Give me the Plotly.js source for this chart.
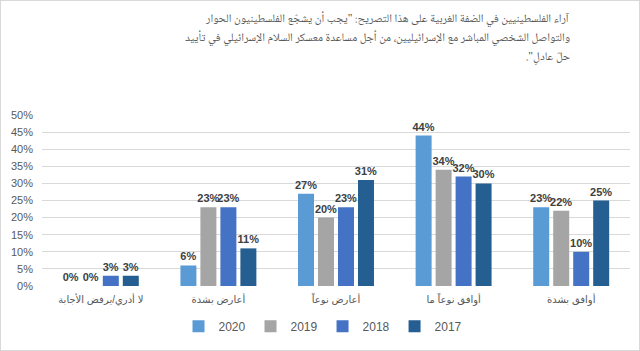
<!DOCTYPE html>
<html>
<head>
<meta charset="utf-8">
<script src="https://cdn.plot.ly/plotly-3.0.1.min.js"></script>
<style>
html,body{margin:0;padding:0;background:#fff;}
#wrap{position:relative;width:640px;height:351px;}
#chart{width:640px;height:351px;}
#frame{position:absolute;left:0;top:0;width:638px;height:349px;border:1px solid #d9d9d9;pointer-events:none;}
</style>
</head>
<body>
<div id="wrap"><div id="chart"></div><div id="frame"></div></div>
<script>
const categories = ["لا أدري/يرفض الأجابة", "أعارض بشدة", "أعارض نوعاً", "أوافق نوعاً ما", "أوافق بشدة"];
const years = ["2020", "2019", "2018", "2017"];
const v2020 = [0, 6, 27, 44, 23];
const v2019 = [0, 23, 20, 34, 22];
const v2018 = [3, 23, 23, 32, 10];
const v2017 = [3, 11, 31, 30, 25];
const seriesValues = [v2020, v2019, v2018, v2017];
const colors = ["#5B9BD5", "#A5A5A5", "#4472C4", "#255E91"];
const titleLines = [
  'آراء الفلسطينيين في الضفة الغربية على هذا التصريح: "يجب أن يشجّع الفلسطينيون الحوار',
  'والتواصل الشخصي المباشر مع الإسرائيليين، من أجل مساعدة معسكر السلام الإسرائيلي في تأييد',
  'حلّ عادلِ".\u200F'
];

const traces = years.map((y, i) => ({
  type: 'bar',
  name: y,
  x: categories,
  y: seriesValues[i],
  marker: {color: colors[i]},
  text: seriesValues[i].map(v => v + '%'),
  textposition: 'outside',
  textfont: {size: 11, color: '#404040', family: 'Liberation Sans, Arial, sans-serif', weight: 'bold'},
  constraintext: 'none',
  cliponaxis: false,
  hoverinfo: 'none'
}));

const plotTop = 115, plotBottom = 289, plotLeft = 42, plotRight = 630;
const pxToPaperY = py => (plotBottom - py) / (plotBottom - plotTop);
const pxToPaperX = px => (px - plotLeft) / (plotRight - plotLeft);
const lineCenters = [18, 37, 56];

const layout = {
  width: 640, height: 351,
  margin: {l: 42, r: 10, t: 115, b: 62},
  paper_bgcolor: '#fff', plot_bgcolor: '#fff',
  font: {family: 'Liberation Sans, Arial, DejaVu Sans, sans-serif', color: '#595959'},
  annotations: titleLines.map((t, i) => ({
    text: t,
    xref: 'paper', yref: 'paper',
    x: pxToPaperX(572), xanchor: 'right',
    y: pxToPaperY(lineCenters[i]), yanchor: 'middle',
    align: 'right', showarrow: false,
    font: {size: 11.5, color: '#595959', family: 'Noto Naskh Arabic, DejaVu Sans, sans-serif'}
  })),
  barmode: 'group',
  bargap: 0.32,
  bargroupgap: 0.2,
  showlegend: true,
  legend: {
    orientation: 'h', x: pxToPaperX(323), xanchor: 'center', y: pxToPaperY(330), yanchor: 'middle',
    font: {size: 12, color: '#595959'},
    traceorder: 'normal'
  },
  xaxis: {
    type: 'category',
    tickfont: {size: 10, color: '#595959'},
    showgrid: false, zeroline: false, showline: false,
    ticks: '', ticklabelstandoff: 6
  },
  yaxis: {
    range: [0, 50], dtick: 5, ticksuffix: '%',
    tickfont: {size: 11, color: '#595959'},
    gridcolor: '#d9d9d9', gridwidth: 1,
    zeroline: false, showline: false, ticks: '', ticklabelstandoff: 8,
    fixedrange: true
  }
};

Plotly.newPlot('chart', traces, layout, {displayModeBar: false, staticPlot: true});
</script>
</body>
</html>
